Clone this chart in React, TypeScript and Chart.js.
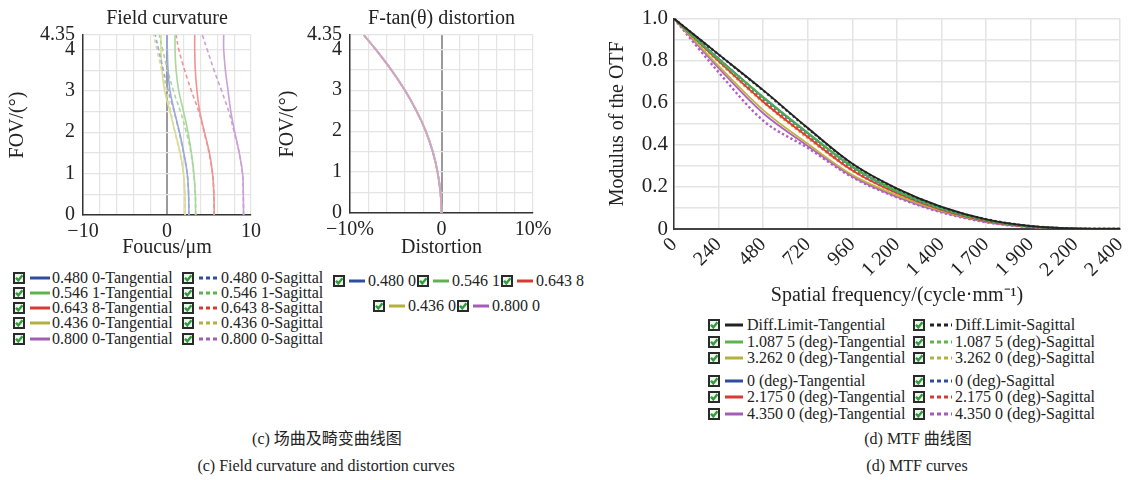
import React, { useEffect, useRef } from 'react';
import { Chart, registerables } from 'chart.js';
Chart.register(...registerables);

const SERIF = "'Liberation Serif', 'Times New Roman', serif";
Chart.defaults.font.family = SERIF;
Chart.defaults.color = '#222';

// ---------- Field curvature ----------
const FOV = [0, 0.5, 1, 1.5, 2, 2.5, 3, 3.5, 4, 4.35];
const FOV_GRID = [0, 0.5, 1, 1.5, 2, 2.5, 3, 3.5, 4, 4.35];
const FOV_LABEL_VALUES = [0, 1, 2, 3, 4, 4.35];
const FOV_LABELS = ['0', '1', '2', '3', '4', '4.35'];

const FOCUS_GRID = [-10, -8, -6, -4, -2, 0, 2, 4, 6, 8, 10];
const FOCUS_LABEL_VALUES = [-10, 0, 10];
const FOCUS_LABELS = ['\u221210', '0', '10'];

const FC_480_T = [2.61, 2.57, 2.41, 2.0, 1.49, 0.88, 0.36, 0.12, 0.04, 0];
const FC_480_S = [2.61, 2.57, 2.4, 1.97, 1.45, 0.85, 0.16, -0.44, -1.0, -1.4];
const FC_546_T = [3.41, 3.37, 3.2, 2.9, 2.5, 1.97, 1.4, 1.08, 0.96, 0.96];
const FC_546_S = [3.41, 3.37, 3.18, 2.85, 2.3, 1.6, 0.76, 0.08, -0.52, -0.92];
const FC_644_T = [5.62, 5.58, 5.42, 5.05, 4.46, 3.9, 3.57, 3.37, 3.3, 3.3];
const FC_644_S = [5.62, 5.58, 5.42, 5.0, 4.42, 3.78, 2.9, 2.1, 1.4, 1.08];
const FC_436_T = [2.17, 2.13, 1.97, 1.57, 0.96, 0.35, -0.28, -0.6, -0.72, -0.72];
const FC_436_S = [2.17, 2.13, 1.95, 1.53, 0.95, 0.45, -0.04, -0.64, -1.2, -1.6];
const FC_800_T = [9.12, 9.08, 9.0, 8.6, 8.07, 7.6, 7.27, 6.95, 6.75, 6.75];
const FC_800_S = [9.12, 9.08, 8.98, 8.6, 8.0, 7.35, 6.5, 5.6, 4.78, 4.2];

// ---------- Distortion ----------
const DIST_GRID = [-10, -8, -6, -4, -2, 0, 2, 4, 6, 8, 10];
const DIST_LABEL_VALUES = [-10, 0, 10];
const DIST_LABELS = ['\u221210%', '0', '10%'];
const DIST_480 = [0, -0.11, -0.43, -0.96, -1.72, -2.75, -4.0, -5.5, -7.2, -8.5];
const DIST_546 = [0, -0.11, -0.43, -0.96, -1.72, -2.75, -4.0, -5.5, -7.2, -8.5];
const DIST_644 = [0, -0.11, -0.43, -0.96, -1.72, -2.75, -4.0, -5.5, -7.2, -8.5];
const DIST_436 = [0, -0.11, -0.43, -0.96, -1.72, -2.75, -4.0, -5.5, -7.2, -8.5];
const DIST_800 = [0, -0.11, -0.43, -0.96, -1.72, -2.75, -4.0, -5.5, -7.2, -8.5];

// ---------- MTF ----------
const MTF_FREQ = [0, 240, 480, 720, 960, 1200, 1440, 1680, 1920, 2160, 2400];
const MTF_X_LABELS = ['0', '240', '480', '720', '960', '1 200', '1 400', '1 700', '1 900', '2 200', '2 400'];
const MTF_Y_GRID = [0, 0.1, 0.2, 0.3, 0.4, 0.5, 0.6, 0.7, 0.8, 0.9, 1.0];
const MTF_Y_LABEL_VALUES = [0, 0.2, 0.4, 0.6, 0.8, 1.0];
const MTF_Y_LABELS = ['0', '0.2', '0.4', '0.6', '0.8', '1.0'];

const MTF_DIFF_T = [1, 0.83, 0.66, 0.48, 0.31, 0.192, 0.105, 0.046, 0.014, 0.002, 0];
const MTF_DIFF_S = [1, 0.829, 0.658, 0.478, 0.309, 0.191, 0.104, 0.046, 0.014, 0.002, 0];
const MTF_1088_T = [1, 0.808, 0.628, 0.458, 0.297, 0.181, 0.098, 0.042, 0.012, 0.002, 0];
const MTF_1088_S = [1, 0.805, 0.622, 0.452, 0.293, 0.178, 0.096, 0.041, 0.012, 0.002, 0];
const MTF_3262_T = [1, 0.775, 0.565, 0.405, 0.257, 0.16, 0.086, 0.036, 0.01, 0.002, 0];
const MTF_3262_S = [1, 0.795, 0.602, 0.432, 0.277, 0.169, 0.091, 0.039, 0.011, 0.002, 0];
const MTF_0_T = [1, 0.81, 0.625, 0.455, 0.295, 0.179, 0.097, 0.042, 0.012, 0.002, 0];
const MTF_0_S = [1, 0.809, 0.624, 0.454, 0.294, 0.178, 0.097, 0.041, 0.012, 0.002, 0];
const MTF_2175_T = [1, 0.798, 0.605, 0.437, 0.278, 0.17, 0.091, 0.038, 0.011, 0.002, 0];
const MTF_2175_S = [1, 0.803, 0.615, 0.447, 0.288, 0.175, 0.094, 0.04, 0.011, 0.002, 0];
const MTF_4350_T = [1, 0.765, 0.55, 0.395, 0.25, 0.153, 0.081, 0.033, 0.009, 0.001, 0];
const MTF_4350_S = [1, 0.745, 0.515, 0.385, 0.246, 0.15, 0.079, 0.032, 0.009, 0.001, 0];

// colours
const PASTEL = { blue: '#9aa9da', green: '#a9d79b', red: '#f09393', olive: '#dcdb98', purple: '#caa2d6' };
const LEG = { blue: '#2f4c9e', green: '#5fb24c', red: '#d63a34', olive: '#b4b03e', purple: '#a45cb4', black: '#222', gray: '#555' };
const MTFC = { black: '#222222', gray: '#444444', green: '#4caf50', olive: '#bdb53c', blue: '#3f5cc0', red: '#e53935', purple: '#b25fc2' };

const pts = (xs: number[], ys: number[]) => xs.map((x, i) => ({ x, y: ys[i] }));
const fcPts = (focus: number[]) => focus.map((f, i) => ({ x: f, y: FOV[i] }));

function labelFrom(values: number[], labels: string[]) {
  return (v: number) => {
    const i = values.findIndex((a) => Math.abs(a - v) < 1e-9);
    return i >= 0 ? labels[i] : '';
  };
}

const lightGrid = (zeroGray: boolean) => ({
  color: (ctx: any) => (zeroGray && ctx.tick && ctx.tick.value === 0 ? '#9a9a9a' : '#e4e4e4'),
  lineWidth: (ctx: any) => (zeroGray && ctx.tick && ctx.tick.value === 0 ? 2 : 1.2),
  drawTicks: false,
});

function fcConfig(): any {
  const ds = (data: number[], color: string, dashed: boolean) => ({
    data: fcPts(data), borderColor: color, borderWidth: 1.6, pointRadius: 0, tension: 0.4,
    borderDash: dashed ? [4, 3] : [], fill: false, showLine: true,
  });
  return {
    type: 'scatter',
    data: {
      datasets: [
        ds(FC_480_T, PASTEL.blue, false), ds(FC_480_S, PASTEL.blue, true),
        ds(FC_546_T, PASTEL.green, false), ds(FC_546_S, PASTEL.green, true),
        ds(FC_644_T, PASTEL.red, false), ds(FC_644_S, PASTEL.red, true),
        ds(FC_436_T, PASTEL.olive, false), ds(FC_436_S, PASTEL.olive, true),
        ds(FC_800_T, PASTEL.purple, false), ds(FC_800_S, PASTEL.purple, true),
      ],
    },
    options: fovOptions('Field curvature', 'Foucus/\u03bcm', FOCUS_GRID, FOCUS_LABEL_VALUES, FOCUS_LABELS, 83, 47, 19),
  };
}

function fovOptions(title: string, xTitle: string, xGrid: number[], xLabVals: number[], xLabs: string[], yWidth: number, xHeight: number, padRight: number): any {
  return {
    responsive: false,
    animation: false,
    layout: { padding: { left: 0, right: padRight, top: 0, bottom: 0 } },
    plugins: {
      legend: { display: false },
      tooltip: { enabled: false },
      title: {
        display: true, text: title, fullSize: false, color: '#222',
        font: { size: 20, weight: 'normal', family: SERIF }, padding: { top: 7, bottom: 4 },
      },
    },
    scales: {
      x: {
        type: 'linear', min: -10, max: 10,
        afterBuildTicks: (s: any) => { s.ticks = xGrid.map((v) => ({ value: v })); },
        afterFit: (s: any) => { s.height = xHeight; },
        ticks: { autoSkip: false, maxRotation: 0, padding: 5, font: { size: 20 }, color: '#222', callback: labelFrom(xLabVals, xLabs) },
        grid: lightGrid(true),
        border: { color: '#333', width: 1.5 },
        title: { display: true, text: xTitle, font: { size: 20 }, color: '#222', padding: { top: 0, bottom: 2 } },
      },
      y: {
        type: 'linear', min: 0, max: 4.35,
        afterBuildTicks: (s: any) => { s.ticks = FOV_GRID.map((v) => ({ value: v })); },
        afterFit: (s: any) => { s.width = yWidth; },
        ticks: { autoSkip: false, padding: 8, font: { size: 20 }, color: '#222', callback: labelFrom(FOV_LABEL_VALUES, FOV_LABELS) },
        grid: lightGrid(false),
        border: { color: '#333', width: 1.5 },
        title: { display: true, text: 'FOV/(\u00b0)', font: { size: 20 }, color: '#222', padding: { top: 6, bottom: 0 } },
      },
    },
  };
}

function distConfig(): any {
  const ds = (data: number[], color: string) => ({
    data: fcPts(data), borderColor: color, borderWidth: 1.8, pointRadius: 0, tension: 0.4, fill: false, showLine: true,
  });
  // dataset 0 is drawn on top
  return {
    type: 'scatter',
    data: {
      datasets: [
        ds(DIST_800, '#cda2cc'), ds(DIST_436, PASTEL.olive), ds(DIST_644, PASTEL.red),
        ds(DIST_546, PASTEL.green), ds(DIST_480, PASTEL.blue),
      ],
    },
    options: fovOptions('F-tan(\u03b8) distortion', 'Distortion', DIST_GRID, DIST_LABEL_VALUES, DIST_LABELS, 80, 49, 27),
  };
}

function mtfConfig(): any {
  const ds = (data: number[], color: string, dashed: boolean) => ({
    data: pts(MTF_FREQ, data), borderColor: color, borderWidth: dashed ? 2.4 : 1.8, pointRadius: 0,
    cubicInterpolationMode: 'monotone', borderDash: dashed ? [2.4, 2.4] : [], fill: false, showLine: true,
  });
  // dataset 0 is drawn on top
  return {
    type: 'scatter',
    data: {
      datasets: [
        ds(MTF_DIFF_T, MTFC.black, false), ds(MTF_DIFF_S, MTFC.gray, true),
        ds(MTF_1088_S, MTFC.green, true), ds(MTF_1088_T, MTFC.green, false),
        ds(MTF_0_S, MTFC.blue, true), ds(MTF_0_T, MTFC.blue, false),
        ds(MTF_2175_S, MTFC.red, true), ds(MTF_2175_T, MTFC.red, false),
        ds(MTF_3262_S, MTFC.olive, true), ds(MTF_3262_T, MTFC.olive, false),
        ds(MTF_4350_T, MTFC.purple, false), ds(MTF_4350_S, MTFC.purple, true),
      ],
    },
    options: {
      responsive: false,
      animation: false,
      layout: { padding: { left: 0, right: 13, top: 18, bottom: 0 } },
      plugins: { legend: { display: false }, tooltip: { enabled: false }, title: { display: false } },
      scales: {
        x: {
          type: 'linear', min: 0, max: 2400,
          afterBuildTicks: (s: any) => { s.ticks = MTF_FREQ.map((v) => ({ value: v })); },
          afterFit: (s: any) => { s.height = 81; },
          ticks: {
            autoSkip: false, minRotation: 45, maxRotation: 45, padding: 4, font: { size: 20 }, color: '#222',
            callback: labelFrom(MTF_FREQ, MTF_X_LABELS),
          },
          grid: { color: '#e4e4e4', lineWidth: 1.5, drawTicks: false },
          border: { color: '#444', width: 2 },
          title: { display: true, text: 'Spatial frequency/(cycle\u00b7mm\u207b\u00b9)', font: { size: 20 }, color: '#222', padding: { top: 0, bottom: 2 } },
        },
        y: {
          type: 'linear', min: 0, max: 1,
          afterBuildTicks: (s: any) => { s.ticks = MTF_Y_GRID.map((v) => ({ value: v })); },
          afterFit: (s: any) => { s.width = 74; },
          ticks: { autoSkip: false, padding: 6, font: { size: 21 }, color: '#222', callback: labelFrom(MTF_Y_LABEL_VALUES, MTF_Y_LABELS) },
          grid: { color: '#e4e4e4', lineWidth: 1.5, drawTicks: false },
          border: { color: '#333', width: 1.5 },
          title: { display: true, text: 'Modulus of the OTF', font: { size: 20 }, color: '#222', padding: { top: 6, bottom: 0 } },
        },
      },
    },
  };
}

function ChartBox({ make, left, top, width, height }: { make: () => any; left: number; top: number; width: number; height: number }) {
  const ref = useRef<HTMLCanvasElement | null>(null);
  useEffect(() => {
    const c = new Chart(ref.current as HTMLCanvasElement, make());
    return () => c.destroy();
  }, []);
  return <canvas ref={ref} width={width} height={height} style={{ position: 'absolute', left, top, width, height }} />;
}

function CheckBox() {
  return (
    <svg width={12} height={12} style={{ display: 'block', flex: 'none' }}>
      <rect x={1} y={1} width={10} height={10} fill="#eef6ee" stroke="#2a2a2a" strokeWidth={2} />
      <path d="M3 5.8 L5.3 8.4 L9.4 3.2" fill="none" stroke="#2f9d3b" strokeWidth={2.4} />
    </svg>
  );
}

function Sample({ color, dashed, w }: { color: string; dashed: boolean; w: number }) {
  return (
    <svg width={w} height={6} style={{ display: 'block', flex: 'none' }}>
      <line x1={0} y1={3} x2={w} y2={3} stroke={color} strokeWidth={3} strokeDasharray={dashed ? '4 3' : undefined} />
    </svg>
  );
}

function LegendItem({ x, y, color, dashed, text, w = 20, g1 = 5, g2 = 2 }: { x: number; y: number; color: string; dashed: boolean; text: string; w?: number; g1?: number; g2?: number }) {
  return (
    <div style={{ position: 'absolute', left: x, top: y - 9, height: 18, display: 'flex', alignItems: 'center', whiteSpace: 'nowrap', fontSize: 16, fontFamily: SERIF, color: '#222' }}>
      <CheckBox />
      <div style={{ width: g1 }} />
      <Sample color={color} dashed={dashed} w={w} />
      <div style={{ width: g2 }} />
      <span>{text}</span>
    </div>
  );
}

const FC_LEGEND = [
  { label: '0.480 0', color: LEG.blue },
  { label: '0.546 1', color: LEG.green },
  { label: '0.643 8', color: LEG.red },
  { label: '0.436 0', color: LEG.olive },
  { label: '0.800 0', color: LEG.purple },
];
const FC_ROWS = [278, 293, 308, 323, 339];

const MTF_LEGEND = [
  { label: 'Diff.Limit', color: LEG.black, row: 325 },
  { label: '1.087 5 (deg)', color: LEG.green, row: 342 },
  { label: '3.262 0 (deg)', color: LEG.olive, row: 358 },
  { label: '0 (deg)', color: LEG.blue, row: 381 },
  { label: '2.175 0 (deg)', color: LEG.red, row: 397 },
  { label: '4.350 0 (deg)', color: LEG.purple, row: 414 },
];

const DIST_LEGEND_POS = [
  { x: 333, y: 281 }, { x: 417, y: 281 }, { x: 501, y: 281 }, { x: 373, y: 306 }, { x: 457, y: 306 },
];

function Caption({ cx, y, text }: { cx: number; y: number; text: string }) {
  return (
    <div style={{ position: 'absolute', left: cx - 300, width: 600, top: y - 10, height: 20, lineHeight: '20px', textAlign: 'center', fontSize: 16, fontFamily: "'Liberation Serif', 'Noto Sans CJK SC', serif", color: '#222', whiteSpace: 'nowrap' }}>
      {text}
    </div>
  );
}

export default function App() {
  return (
    <div style={{ position: 'absolute', left: 0, top: 0, width: 1141, height: 480, background: '#fff', overflow: 'hidden' }}>
      <ChartBox make={fcConfig} left={0} top={0} width={270} height={262} />
      <ChartBox make={distConfig} left={270} top={0} width={290} height={262} />
      <ChartBox make={mtfConfig} left={600} top={0} width={541} height={310} />

      {FC_LEGEND.map((l, i) => (
        <React.Fragment key={'fc' + i}>
          <LegendItem x={13} y={FC_ROWS[i]} color={l.color} dashed={false} text={l.label + '-Tangential'} />
          <LegendItem x={182} y={FC_ROWS[i]} color={l.color} dashed={true} text={l.label + '-Sagittal'} />
        </React.Fragment>
      ))}

      {FC_LEGEND.map((l, i) => (
        <LegendItem key={'d' + i} x={DIST_LEGEND_POS[i].x} y={DIST_LEGEND_POS[i].y} color={l.color} dashed={false} text={l.label} w={16} g1={4} g2={3} />
      ))}

      {MTF_LEGEND.map((l, i) => (
        <React.Fragment key={'m' + i}>
          <LegendItem x={708} y={l.row} color={l.color} dashed={false} text={l.label + '-Tangential'} w={18} g1={5} g2={4} />
          <LegendItem x={913} y={l.row} color={l.color} dashed={true} text={l.label + '-Sagittal'} w={22} g1={5} g2={3} />
        </React.Fragment>
      ))}

      <Caption cx={327} y={439} text={'(c) 场曲及畸变曲线图'} />
      <Caption cx={326} y={466} text={'(c) Field curvature and distortion curves'} />
      <Caption cx={918} y={439} text={'(d) MTF 曲线图'} />
      <Caption cx={917} y={466} text={'(d) MTF curves'} />
    </div>
  );
}
